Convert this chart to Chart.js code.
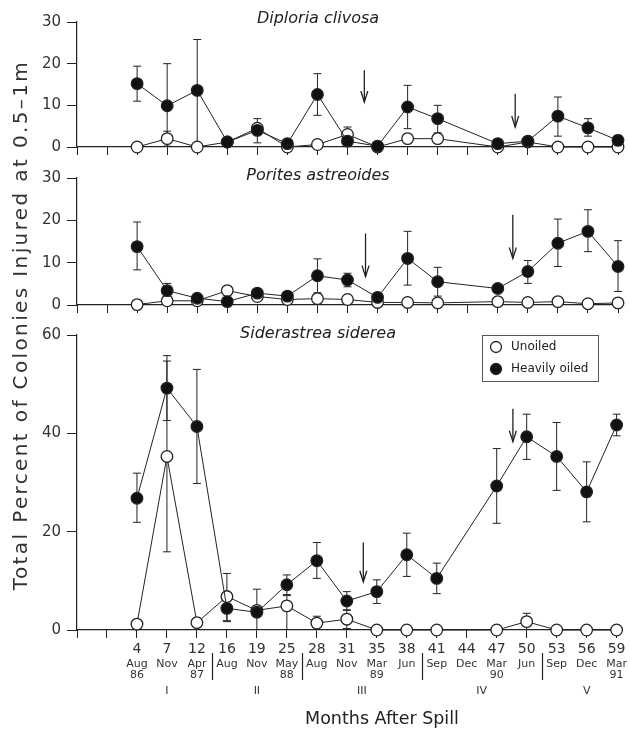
<!DOCTYPE html>
<html lang="en">
<head>
<meta charset="UTF-8">
<title>Coral colonies injured after the oil spill</title>
<script src="https://cdn.jsdelivr.net/npm/chart.js@4"></script>
<style>
    body { margin: 0; background: #fff; }
    #wrap { position: relative; width: 630px; height: 732px; }
    #wrap canvas { position: absolute; left: 0; top: 0; }
</style>
</head>
<body>
<div id="wrap">
    <canvas id="sideChart" width="630" height="732"></canvas>
    <canvas id="poritesChart" width="630" height="732"></canvas>
    <canvas id="diploriaChart" width="630" height="732"></canvas>
</div>
<script>
// categories: two empty slots before the first survey (month 4)
const monthsAfterSpill = ['', '', '4', '7', '12', '16', '19', '25', '28', '31', '35', '38', '41', '44', '47', '50', '53', '56', '59'];
const monthNames = ['', '', 'Aug', 'Nov', 'Apr', 'Aug', 'Nov', 'May', 'Aug', 'Nov', 'Mar', 'Jun', 'Sep', 'Dec', 'Mar', 'Jun', 'Sep', 'Dec', 'Mar'];
const yearLabels = ['', '', '86', '', '87', '', '', '88', '', '', '89', '', '', '', '90', '', '', '', '91'];
const periodNames = ['I', 'II', 'III', 'IV', 'V'];
const periodCenters = [3, 6, 9.5, 13.5, 17];
const periodBreaks = [4.5, 7.5, 11.5, 15.5];

// Diploria clivosa
const diploriaOiled = [null, null, 15.2, 9.9, 13.6, 1.2, 4.0, 0.8, 12.6, 1.4, 0.2, 9.6, 6.8, null, 0.8, 1.4, 7.4, 4.6, 1.6];
const diploriaOiledHi = [null, null, 19.4, 20.0, 25.8, null, 6.8, null, 17.6, null, null, 14.8, 10.0, null, null, null, 12.0, 6.8, 2.8];
const diploriaOiledLo = [null, null, 11.0, 0, 0, null, 1.0, null, 7.6, null, null, 4.4, 3.4, null, null, null, 2.6, 2.6, 0.4];
const diploriaUnoiled = [null, null, 0, 2.0, 0, 1.2, 4.5, 0, 0.6, 3.0, 0, 2.0, 2.0, null, 0, 1.2, 0, 0, 0];
const diploriaUnoiledHi = [null, null, null, 3.8, null, null, null, null, null, 4.8, null, null, null, null, null, null, null, null, null];
const diploriaUnoiledLo = [null, null, null, 0.2, null, null, null, null, null, 1.2, null, null, null, null, null, null, null, null, null];
const diploriaArrows = [[9.56, 18.4, 10.8], [14.58, 12.8, 4.8]];

// Porites astreoides
const poritesOiled = [null, null, 13.8, 3.4, 1.6, 0.8, 2.8, 2.1, 6.9, 5.9, 1.8, 11.0, 5.5, null, 3.9, 7.9, 14.6, 17.4, 9.1];
const poritesOiledHi = [null, null, 19.6, 5.1, null, null, null, null, 10.9, 7.5, null, 17.4, 8.9, null, null, 10.5, 20.3, 22.5, 15.2];
const poritesOiledLo = [null, null, 8.3, 1.7, null, null, null, null, 2.9, 4.3, null, 4.7, 2.1, null, null, 5.1, 9.1, 12.6, 3.2];
const poritesUnoiled = [null, null, 0.1, 1.0, 1.0, 3.4, 2.0, 1.3, 1.5, 1.3, 0.6, 0.6, 0.5, null, 0.8, 0.6, 0.8, 0.3, 0.5];
const poritesArrows = [[9.6, 16.9, 6.7], [14.5, 21.3, 11.0]];

// Siderastrea siderea
const sideOiled = [null, null, 26.8, 49.2, 41.4, 4.4, 3.6, 9.2, 14.1, 5.9, 7.8, 15.3, 10.5, null, 29.3, 39.3, 35.3, 28.1, 41.7];
const sideOiledHi = [null, null, 31.9, 55.8, 53.0, 6.9, 8.3, 11.2, 17.8, 7.8, 10.2, 19.7, 13.6, null, 36.9, 43.9, 42.2, 34.2, 43.9];
const sideOiledLo = [null, null, 21.9, 42.6, 29.8, 1.9, 0, 7.2, 10.5, 4.0, 5.4, 10.9, 7.4, null, 21.7, 34.7, 28.4, 22.0, 39.5];
const sideUnoiled = [null, null, 1.2, 35.3, 1.5, 6.8, 4.0, 4.9, 1.4, 2.2, 0, 0, 0, null, 0, 1.7, 0, 0, 0];
const sideUnoiledHi = [null, null, null, 54.7, null, 11.5, null, 7.0, 2.8, 4.1, null, null, null, null, null, 3.4, null, null, null];
const sideUnoiledLo = [null, null, null, 15.9, null, 1.7, null, 0, 0, 0.3, null, null, null, null, null, 0, null, null, null];
const sideArrows = [[9.55, 17.8, 9.8], [14.54, 45.0, 38.3]];

const FONT = "'DejaVu Sans', 'Liberation Sans', Arial, sans-serif";
const INK = '#222';
Chart.defaults.font.family = FONT;
Chart.defaults.color = '#333';
Chart.defaults.animation = false;

// vertical error bars with caps, drawn under the points
const errorBarPlugin = {
    id: 'errorBars',
    beforeDatasetsDraw(chart) {
        const ctx = chart.ctx;
        const y = chart.scales.y;
        chart.data.datasets.forEach((ds, di) => {
            if (!ds.errHigh) return;
            const meta = chart.getDatasetMeta(di);
            ctx.save();
            ctx.strokeStyle = INK;
            ctx.lineWidth = 1;
            meta.data.forEach((pt, i) => {
                const hi = ds.errHigh[i];
                const lo = ds.errLow[i];
                if (hi == null) return;
                const yHi = y.getPixelForValue(hi);
                const yLo = y.getPixelForValue(lo);
                ctx.beginPath();
                ctx.moveTo(pt.x, yHi);
                ctx.lineTo(pt.x, yLo);
                ctx.moveTo(pt.x - 4, yHi);
                ctx.lineTo(pt.x + 4, yHi);
                if (lo > 0) {
                    ctx.moveTo(pt.x - 4, yLo);
                    ctx.lineTo(pt.x + 4, yLo);
                }
                ctx.stroke();
            });
            ctx.restore();
        });
    }
};

// downward arrows marking events
const arrowPlugin = {
    id: 'arrows',
    afterDatasetsDraw(chart, args, opts) {
        const ctx = chart.ctx;
        const {x, y} = chart.scales;
        ctx.save();
        ctx.strokeStyle = INK;
        ctx.lineWidth = 1.3;
        (opts.list || []).forEach(([pos, from, to]) => {
            const px = x.getPixelForValue(pos);
            const y0 = y.getPixelForValue(from);
            const y1 = y.getPixelForValue(to);
            ctx.beginPath();
            ctx.moveTo(px, y0);
            ctx.lineTo(px, y1);
            ctx.stroke();
            ctx.beginPath();
            ctx.moveTo(px - 3.5, y1 - 11);
            ctx.lineTo(px, y1);
            ctx.lineTo(px + 3.5, y1 - 11);
            ctx.stroke();
        });
        ctx.restore();
    }
};

const panelTitlePlugin = {
    id: 'panelTitle',
    afterDraw(chart, args, opts) {
        if (!opts.text) return;
        const ctx = chart.ctx;
        ctx.save();
        ctx.font = 'italic 16px ' + FONT;
        ctx.fillStyle = INK;
        ctx.textAlign = 'center';
        ctx.textBaseline = 'middle';
        ctx.fillText(opts.text, opts.x, opts.y);
        ctx.restore();
    }
};

// legend box, period separators, x title and the shared y title (bottom chart only)
const bottomDecorPlugin = {
    id: 'bottomDecor',
    afterDraw(chart, args, opts) {
        if (!opts.enabled) return;
        const ctx = chart.ctx;
        const x = chart.scales.x;
        ctx.save();

        ctx.strokeStyle = INK;
        ctx.lineWidth = 1.2;
        periodBreaks.forEach(v => {
            const px = Math.round(x.getPixelForValue(v)) + 0.5;
            ctx.beginPath();
            ctx.moveTo(px, 653);
            ctx.lineTo(px, 680);
            ctx.stroke();
        });

        // legend
        const lx = 482, ly = 335, lw = 116, lh = 46;
        ctx.fillStyle = '#fff';
        ctx.fillRect(lx, ly, lw, lh);
        ctx.strokeStyle = '#555';
        ctx.lineWidth = 1;
        ctx.strokeRect(lx + 0.5, ly + 0.5, lw, lh);
        chart.data.datasets.forEach((ds, i) => {
            const cy = ly + 12 + i * 22;
            ctx.beginPath();
            ctx.arc(lx + 14, cy, 5.5, 0, Math.PI * 2);
            ctx.fillStyle = ds.pointBackgroundColor;
            ctx.fill();
            ctx.strokeStyle = ds.pointBorderColor;
            ctx.lineWidth = 1.3;
            ctx.stroke();
            ctx.fillStyle = INK;
            ctx.font = '12px ' + FONT;
            ctx.textAlign = 'left';
            ctx.textBaseline = 'middle';
            ctx.fillText(ds.label, lx + 29, cy);
        });

        // x title
        ctx.fillStyle = '#222';
        ctx.font = '17.5px ' + FONT;
        ctx.textAlign = 'center';
        ctx.textBaseline = 'middle';
        ctx.fillText('Months After Spill', 382, 719);

        // y title spanning all three panels
        const title = 'Total Percent of Colonies Injured at 0.5\u20131m';
        ctx.font = '20px ' + FONT;
        const w = ctx.measureText(title).width;
        ctx.letterSpacing = Math.max(0, (528 - w) / (title.length - 1)) + 'px';
        ctx.translate(22, 325);
        ctx.rotate(-Math.PI / 2);
        ctx.fillStyle = '#333';
        ctx.fillText(title, 0, 0);
        ctx.restore();
    }
};

function seriesPair(oiled, oiledHi, oiledLo, unoiled, unoiledHi, unoiledLo) {
    const common = {
        borderColor: INK,
        borderWidth: 1,
        pointRadius: 5.8,
        pointBorderColor: INK,
        pointBorderWidth: 1.3,
        spanGaps: true,
        clip: false
    };
    return [
        Object.assign({label: 'Unoiled', data: unoiled, errHigh: unoiledHi, errLow: unoiledLo,
            pointBackgroundColor: '#fff', order: 1}, common),
        Object.assign({label: 'Heavily oiled', data: oiled, errHigh: oiledHi, errLow: oiledLo,
            pointBackgroundColor: '#111', order: 0}, common)
    ];
}

function yAxis(max, step) {
    return {
        min: 0, max: max,
        afterFit: s => { s.width = 77; },
        ticks: {stepSize: step, font: {size: 15}, color: '#333', padding: 6},
        grid: {drawOnChartArea: false, tickLength: 10, color: INK},
        border: {color: INK, width: 1.2}
    };
}

function upperPanel(id, datasets, max, step, top, bottom, title, titleY, arrows) {
    new Chart(document.getElementById(id), {
        type: 'line',
        data: {labels: monthsAfterSpill, datasets: datasets},
        options: {
            responsive: false,
            devicePixelRatio: 1,
            layout: {padding: {top: top, bottom: 732 - bottom - 10, left: 0, right: 12}},
            scales: {
                x: {
                    afterFit: s => { s.height = 10; },
                    ticks: {display: false},
                    grid: {drawOnChartArea: false, tickLength: 8, color: INK},
                    border: {color: INK, width: 1.2}
                },
                y: yAxis(max, step)
            },
            plugins: {
                legend: {display: false},
                tooltip: {enabled: false},
                arrows: {list: arrows},
                panelTitle: {text: title, x: 318, y: titleY}
            }
        },
        plugins: [errorBarPlugin, arrowPlugin, panelTitlePlugin]
    });
}

upperPanel('diploriaChart',
    seriesPair(diploriaOiled, diploriaOiledHi, diploriaOiledLo, diploriaUnoiled, diploriaUnoiledHi, diploriaUnoiledLo),
    30, 10, 22, 147, 'Diploria clivosa', 19, diploriaArrows);

upperPanel('poritesChart',
    seriesPair(poritesOiled, poritesOiledHi, poritesOiledLo, poritesUnoiled, null, null),
    30, 10, 178, 305, 'Porites astreoides', 176, poritesArrows);

new Chart(document.getElementById('sideChart'), {
    type: 'line',
    data: {
        labels: monthsAfterSpill,
        datasets: seriesPair(sideOiled, sideOiledHi, sideOiledLo, sideUnoiled, sideUnoiledHi, sideUnoiledLo)
    },
    options: {
        responsive: false,
        devicePixelRatio: 1,
        layout: {padding: {top: 335, bottom: 0, left: 0, right: 12}},
        scales: {
            x: {
                weight: 0,
                afterFit: s => { s.height = 26; },
                ticks: {font: {size: 14}, color: '#333', padding: 3, autoSkip: false, maxRotation: 0},
                grid: {drawOnChartArea: false, tickLength: 8, color: INK},
                border: {color: INK, width: 1.2}
            },
            x2: {
                type: 'category',
                position: 'bottom',
                weight: 1,
                labels: monthNames,
                afterFit: s => { s.height = 28; },
                ticks: {
                    font: {size: 11, lineHeight: 1.0},
                    color: '#333',
                    padding: 3,
                    autoSkip: false,
                    maxRotation: 0,
                    callback: (v, i) => yearLabels[i] ? [monthNames[i], yearLabels[i]] : monthNames[i]
                },
                grid: {display: false, drawTicks: false},
                border: {display: false}
            },
            x3: {
                type: 'linear',
                position: 'bottom',
                weight: 2,
                min: 0, max: monthsAfterSpill.length - 1,
                afterBuildTicks: s => { s.ticks = periodCenters.map(v => ({value: v})); },
                afterFit: s => { s.height = 48; },
                ticks: {
                    font: {size: 11},
                    color: '#333',
                    padding: 1,
                    autoSkip: false,
                    maxRotation: 0,
                    callback: v => periodNames[periodCenters.indexOf(v)]
                },
                grid: {display: false, drawTicks: false},
                border: {display: false}
            },
            y: yAxis(60, 20)
        },
        plugins: {
            legend: {display: false},
            tooltip: {enabled: false},
            arrows: {list: sideArrows},
            panelTitle: {text: 'Siderastrea siderea', x: 318, y: 334},
            bottomDecor: {enabled: true}
        }
    },
    plugins: [errorBarPlugin, arrowPlugin, panelTitlePlugin, bottomDecorPlugin]
});
</script>
</body>
</html>
